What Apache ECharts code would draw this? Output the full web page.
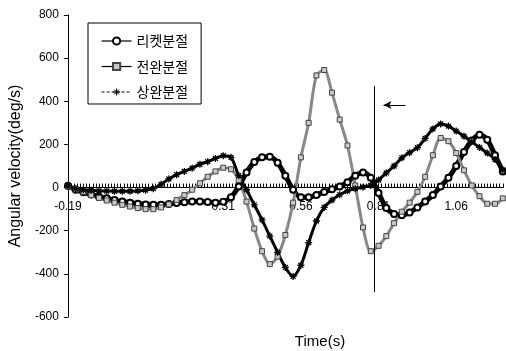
<!DOCTYPE html>
<html><head><meta charset="utf-8">
<script src="https://cdn.jsdelivr.net/npm/echarts@6/dist/echarts.min.js"></script>
<style>html,body{margin:0;padding:0;background:#fff}#c{width:506px;height:351px}</style>
</head><body><div id="c"></div>
<script>
// ---- data ----
const T0 = -0.19; // first time value (axis origin)
const time = [-0.19,-0.165,-0.14,-0.115,-0.09,-0.065,-0.04,-0.015,0.01,0.035,
  0.06,0.085,0.11,0.135,0.16,0.185,0.21,0.235,0.26,0.285,
  0.31,0.335,0.36,0.385,0.41,0.435,0.46,0.485,0.51,0.535,
  0.56,0.585,0.61,0.635,0.66,0.685,0.71,0.735,0.76,0.785,
  0.81,0.835,0.86,0.885,0.91,0.935,0.96,0.985,1.01,1.035,
  1.06,1.085,1.11,1.135,1.16,1.185,1.21];
const racket = [8,-10,-22,-32,-42,-50,-58,-65,-70,-75,
  -78,-80,-80,-76,-72,-68,-65,-65,-67,-70,
  -66,-45,5,70,118,140,143,115,55,-10,
  -45,-45,-35,-20,-8,5,25,55,70,45,
  -25,-95,-122,-128,-115,-92,-65,-35,5,45,
  100,165,218,245,222,150,75];
const forearm = [5,-8,-20,-35,-48,-60,-70,-80,-88,-95,
  -100,-100,-92,-78,-58,-35,-10,20,50,75,
  92,85,35,-65,-190,-295,-355,-320,-220,-70,
  140,300,520,545,440,315,195,10,-185,-295,
  -270,-225,-165,-112,-70,-20,50,150,230,215,
  160,80,10,-40,-75,-75,-50];
const upperArm = [8,-5,-10,-12,-15,-16,-17,-17,-17,-15,
  -12,-5,15,40,60,75,90,108,120,135,
  148,140,55,-10,-80,-150,-225,-300,-370,-412,
  -360,-255,-155,-92,-58,-33,-15,-5,2,10,
  35,68,100,138,162,185,228,272,295,285,
  262,238,212,186,160,130,82];
const seriesNames = ['리켓분절', '전완분절', '상완분절'];
const xTickLabels = ['-0.19', '0.06', '0.31', '0.56', '0.81', '1.06'];
const yRange = [-600, 800, 200];
const markerTime = 0.797;          // vertical reference line
const markerSpan = [470, -485];
const arrowFrom = [0.897, 383];
const arrowTo = [0.826, 383];
const xTitle = 'Time(s)';
const yTitle = 'Angular velocity(deg/s)';

// ---- chart ----
const W = 506, H = 351;
const GRID = {left: 66, right: 3.2, top: 15, bottom: 34};
const XSTEP = 0.25;
const XMAX = +(time[time.length - 1] - T0).toFixed(3);
const toXY = arr => time.map((t, i) => [+(t - T0).toFixed(4), arr[i]]);
const xFmt = v => {
  const i = Math.round(v / XSTEP);
  return Math.abs(v - i * XSTEP) < 1e-6 ? (xTickLabels[i] || '') : '';
};
// labels sit just under the zero line (as in the source), not at the grid bottom
const gridH = H - GRID.top - GRID.bottom;
const zeroFromBottom = gridH * (0 - yRange[0]) / (yRange[1] - yRange[0]);
const labelMargin = 13 - zeroFromBottom;

const star = 'path://M5 0L5 10M0 5L10 5M1.5 1.5L8.5 8.5M8.5 1.5L1.5 8.5';
const font = 'Liberation Sans, Arial, sans-serif';

const chart = echarts.init(document.getElementById('c'), null, {renderer: 'canvas'});
chart.setOption({
  animation: false,
  backgroundColor: '#fff',
  textStyle: {fontFamily: font},
  grid: GRID,
  legend: {
    orient: 'vertical', left: 88, top: 23,
    padding: [11, 13, 5, 13], itemGap: 11.5, itemWidth: 30, itemHeight: 9,
    borderColor: '#000', borderWidth: 1, backgroundColor: '#fff',
    textStyle: {fontFamily: 'Noto Sans CJK KR', fontSize: 14, color: '#000'},
    data: [
      {name: seriesNames[0], lineStyle: {color: '#000', width: 1.2, type: 'solid'}},
      {name: seriesNames[1], lineStyle: {color: '#000', width: 1.2, type: 'solid'}},
      {name: seriesNames[2], lineStyle: {color: '#000', width: 1, type: [3, 2]},
       itemStyle: {color: '#000', borderColor: '#000', borderWidth: 1}}
    ]
  },
  xAxis: {
    type: 'value', min: 0, max: XMAX, interval: XSTEP,
    axisLine: {onZero: true, lineStyle: {color: '#000', width: 1}},
    axisTick: {show: true, inside: true, length: 4, lineStyle: {color: '#000'}},
    minorTick: {show: true, splitNumber: 25, length: 4, lineStyle: {color: '#000'}},
    axisLabel: {formatter: xFmt, color: '#000', fontSize: 12, margin: labelMargin, showMaxLabel: false, showMinLabel: true},
    splitLine: {show: false}
  },
  yAxis: {
    type: 'value', min: yRange[0], max: yRange[1], interval: yRange[2],
    axisLine: {show: true, onZero: false, lineStyle: {color: '#000', width: 1}},
    axisTick: {show: true, length: 4, lineStyle: {color: '#000'}},
    axisLabel: {color: '#000', fontSize: 12, margin: 9},
    splitLine: {show: false},
    name: yTitle, nameLocation: 'middle', nameGap: 39,
    nameTextStyle: {fontSize: 16, color: '#000', fontFamily: font}
  },
  graphic: [{
    type: 'text', x: 320, y: 342,
    style: {text: xTitle, font: '15px ' + font, fill: '#000', align: 'center', verticalAlign: 'middle'}
  }],
  series: [{
    name: seriesNames[0], type: 'line', smooth: 0.3, data: toXY(racket),
    symbol: 'emptyCircle', symbolSize: 6, showSymbol: true,
    lineStyle: {color: '#000', width: 5},
    itemStyle: {color: '#000', borderColor: '#000', borderWidth: 1.5},
    markLine: {
      silent: true, animation: false,
      lineStyle: {color: '#000', width: 1, type: 'solid'},
      label: {show: false},
      data: [
        [{coord: [markerTime - T0, markerSpan[0]], symbol: 'none'}, {coord: [markerTime - T0, markerSpan[1]], symbol: 'none'}],
        [{coord: [arrowFrom[0] - T0, arrowFrom[1]], symbol: 'none'}, {coord: [arrowTo[0] - T0, arrowTo[1]], symbol: 'arrow', symbolSize: [6, 8]}]
      ]
    }
  }, {
    name: seriesNames[1], type: 'line', smooth: 0.3, data: toXY(forearm),
    symbol: 'rect', symbolSize: 5, showSymbol: true,
    lineStyle: {color: '#888', width: 3},
    itemStyle: {color: '#c8c8c8', borderColor: '#444', borderWidth: 1}
  }, {
    name: seriesNames[2], type: 'line', smooth: 0.3, data: toXY(upperArm),
    symbol: star, symbolSize: 7, showSymbol: true,
    lineStyle: {color: '#000', width: 3},
    itemStyle: {color: 'none', borderColor: '#000', borderWidth: 1.3}
  }]
});
</script>
</body></html>
